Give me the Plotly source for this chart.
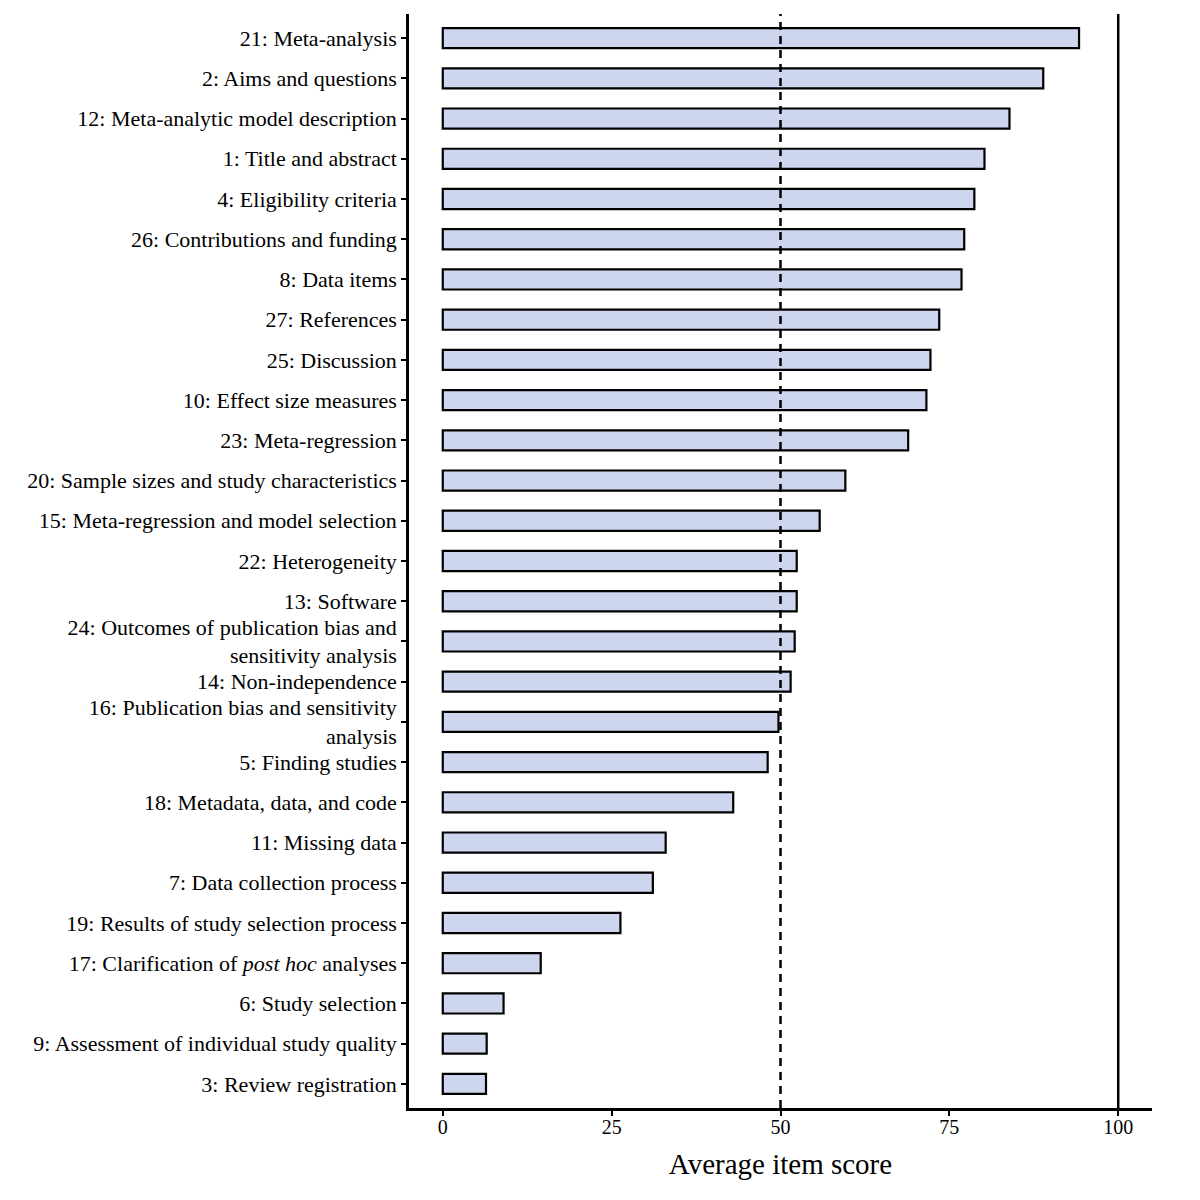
import plotly.graph_objects as go

labels = [
    "21: Meta-analysis",
    "2: Aims and questions",
    "12: Meta-analytic model description",
    "1: Title and abstract",
    "4: Eligibility criteria",
    "26: Contributions and funding",
    "8: Data items",
    "27: References",
    "25: Discussion",
    "10: Effect size measures",
    "23: Meta-regression",
    "20: Sample sizes and study characteristics",
    "15: Meta-regression and model selection",
    "22: Heterogeneity",
    "13: Software",
    "24: Outcomes of publication bias and<br>sensitivity analysis",
    "14: Non-independence",
    "16: Publication bias and sensitivity<br>analysis",
    "5: Finding studies",
    "18: Metadata, data, and code",
    "11: Missing data",
    "7: Data collection process",
    "19: Results of study selection process",
    "17: Clarification of <i>post hoc</i> analyses",
    "6: Study selection",
    "9: Assessment of individual study quality",
    "3: Review registration",
]
scores = [94.2, 88.9, 83.9, 80.2, 78.7, 77.2, 76.8, 73.5, 72.2, 71.6, 68.9,
          59.6, 55.8, 52.4, 52.4, 52.1, 51.5, 49.7, 48.1, 43.0, 33.0, 31.1,
          26.3, 14.5, 9.0, 6.5, 6.4]
x_ticks = [0, 25, 50, 75, 100]
threshold = 50
maximum = 100

font_family = "Liberation Serif, DejaVu Serif, serif"

fig = go.Figure()
fig.add_trace(go.Bar(
    x=scores, y=labels, orientation="h", width=0.5,
    marker=dict(color="#CDD6EE", line=dict(color="black", width=2.2)),
    showlegend=False,
))

fig.add_shape(type="line", x0=threshold, x1=threshold, y0=0, y1=1, yref="paper",
              line=dict(color="black", width=2.5, dash="8px,6px"), layer="above")
fig.add_shape(type="line", x0=maximum, x1=maximum, y0=0, y1=1, yref="paper",
              line=dict(color="black", width=2.5), layer="above")

fig.update_layout(
    width=1200, height=1200,
    margin=dict(l=401, r=56, t=6, b=100),
    paper_bgcolor="white", plot_bgcolor="white",
    font=dict(family=font_family, color="black", size=22),
    bargap=0.5,
)
fig.update_xaxes(
    range=[-5, 105], tickvals=x_ticks, ticktext=[str(t) for t in x_ticks],
    showgrid=False, zeroline=False, showline=True, linecolor="black", linewidth=2.5,
    ticks="outside", ticklen=5, tickwidth=2, tickcolor="black",
    tickfont=dict(size=20, family=font_family), ticklabelstandoff=-6,
    title=dict(text="Average item score", font=dict(size=29, family=font_family), standoff=17),
)
fig.update_yaxes(
    type="category", categoryorder="array", categoryarray=labels,
    range=[len(labels) - 0.4, -0.6],
    showgrid=False, zeroline=False, showline=True, linecolor="black", linewidth=2.5,
    ticks="outside", ticklen=5, tickwidth=2, tickcolor="black",
    tickfont=dict(size=22, family=font_family),
)

fig.write_html("out.html")
